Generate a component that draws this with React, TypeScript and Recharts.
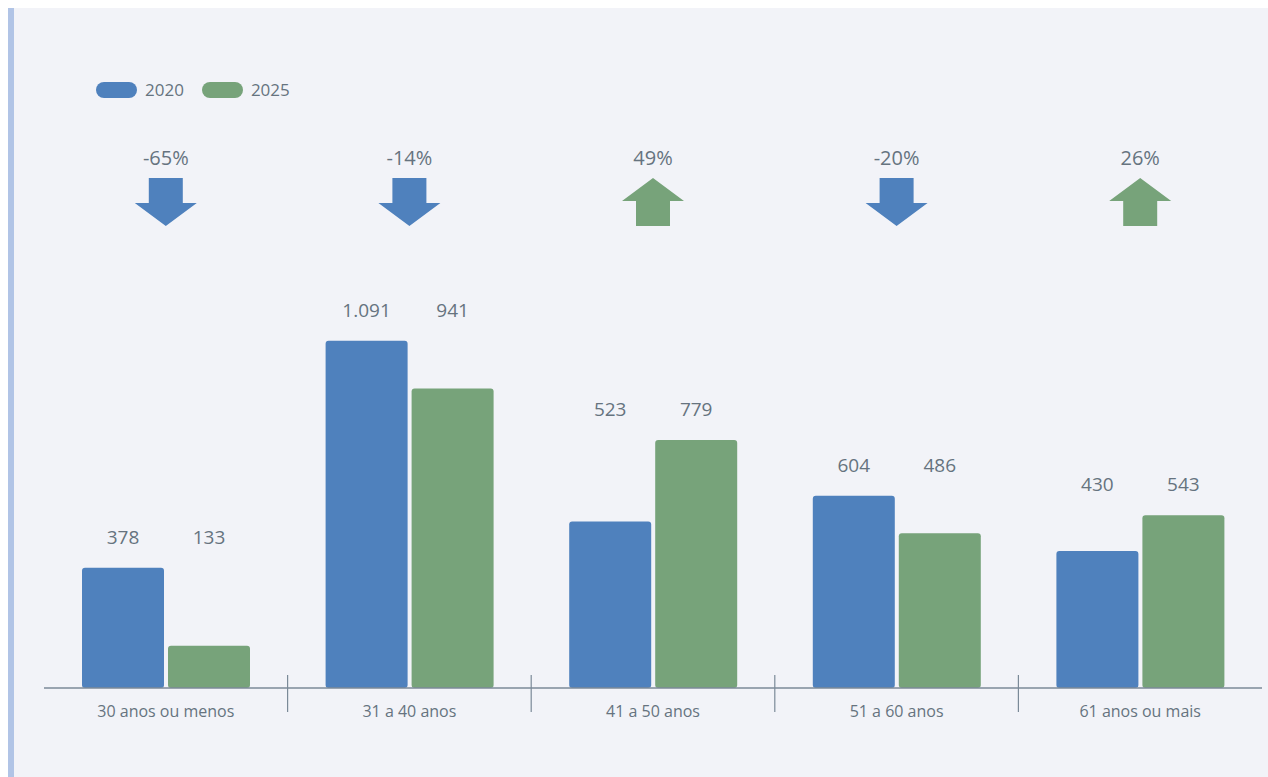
import React from 'react'
import { BarChart, Bar, XAxis, YAxis, Legend, LabelList } from 'recharts'

const faixas = ['30 anos ou menos', '31 a 40 anos', '41 a 50 anos', '51 a 60 anos', '61 anos ou mais']
const valores2020 = [378, 1091, 523, 604, 430]
const valores2025 = [133, 941, 779, 486, 543]
const variacao = [-65, -14, 49, -20, 26]

const AZUL = '#4f81bd'
const VERDE = '#77a37a'
const TEXTO = '#66737f'
const EIXO = '#7b8a98'
const FONTE = '"Open Sans", "Noto Sans", sans-serif'

const CHART_W = 1254
const CHART_H = 769
const PLOT_TOP = 298
const PLOT_BOTTOM = 680
const PLOT_W = 1218

const data = faixas.map((faixa, i) => ({
  faixa,
  v2020: valores2020[i],
  v2025: valores2025[i],
}))

const fmt = (v: number) => String(v).replace(/\B(?=(\d{3})+(?!\d))/g, '.')

// label sits above the taller bar of its group
const ValueLabel = (props: any) => {
  const { x, y, width, height, value, index } = props
  const max = Math.max(valores2020[index], valores2025[index])
  const bottom = y + height
  const topOfMax = bottom - (height * max) / value
  return (
    <text
      x={x + width / 2}
      y={topOfMax - 29}
      textAnchor='middle'
      dominantBaseline='middle'
      fill={TEXTO}
      fontSize={19}
      fontFamily={FONTE}
    >
      {fmt(value)}
    </text>
  )
}

const ArrowTick = (props: any) => {
  const { x, payload } = props
  const v = variacao[payload.index]
  const down = v < 0
  const cx = x
  const pts = down
    ? [
        [cx - 17, 170], [cx + 17, 170], [cx + 17, 195], [cx + 31, 195],
        [cx, 218], [cx - 31, 195], [cx - 17, 195],
      ]
    : [
        [cx, 170], [cx + 31, 193], [cx + 17, 193], [cx + 17, 218],
        [cx - 17, 218], [cx - 17, 193], [cx - 31, 193],
      ]
  return (
    <g>
      <text
        x={cx}
        y={152}
        textAnchor='middle'
        dominantBaseline='middle'
        fill={TEXTO}
        fontSize={20}
        fontFamily={FONTE}
      >
        {v + '%'}
      </text>
      <polygon points={pts.map((p) => p.join(',')).join(' ')} fill={down ? AZUL : VERDE} />
    </g>
  )
}

// category name plus the divider on the right edge of its band
const CategoryTick = (props: any) => {
  const { x, payload, index } = props
  const half = payload.offset || PLOT_W / faixas.length / 2
  const sx = x + half
  return (
    <g>
      <text
        x={x}
        y={PLOT_BOTTOM + 25}
        textAnchor='middle'
        dominantBaseline='middle'
        fill={TEXTO}
        fontSize={16}
        fontFamily={FONTE}
      >
        {payload.value}
      </text>
      {index < faixas.length - 1 && (
        <line x1={sx} x2={sx} y1={PLOT_BOTTOM - 13} y2={PLOT_BOTTOM + 24} stroke={EIXO} strokeWidth={1.2} />
      )}
    </g>
  )
}

const LegendContent = () => {
  const items = [
    { label: '2020', color: AZUL },
    { label: '2025', color: VERDE },
  ]
  return (
    <div style={{ display: 'flex', alignItems: 'center', fontFamily: FONTE, fontSize: 17, color: TEXTO }}>
      {items.map((it) => (
        <div key={it.label} style={{ display: 'flex', alignItems: 'center', marginRight: 18 }}>
          <span
            style={{
              display: 'inline-block',
              width: 41,
              height: 16,
              borderRadius: 8,
              background: it.color,
              marginRight: 8,
            }}
          />
          <span>{it.label}</span>
        </div>
      ))}
    </div>
  )
}

export default function App() {
  return (
    <div
      style={{
        position: 'fixed',
        left: 8,
        top: 8,
        right: 0,
        bottom: 0,
        background: '#f2f3f8',
        borderLeft: '6px solid #b1c4e6',
        overflow: 'hidden',
      }}
    >
      <BarChart
        width={CHART_W}
        height={CHART_H}
        data={data}
        margin={{ top: 10, right: 6, left: 30, bottom: CHART_H - PLOT_BOTTOM - 40 }}
        barGap={4}
        barSize={82}
      >
        <XAxis
          dataKey='faixa'
          xAxisId='top'
          orientation='top'
          height={PLOT_TOP - 10}
          axisLine={false}
          tickLine={false}
          tick={<ArrowTick />}
          interval={0}
        />
        <XAxis
          dataKey='faixa'
          height={40}
          axisLine={{ stroke: EIXO, strokeWidth: 1.5 }}
          tickLine={false}
          tick={<CategoryTick />}
          interval={0}
        />
        <YAxis hide domain={[0, 1200]} />
        <Legend
          verticalAlign='middle'
          content={<LegendContent />}
          wrapperStyle={{ top: 70, left: 82, width: 'auto' }}
        />
        <Bar dataKey='v2020' name='2020' fill={AZUL} radius={3} isAnimationActive={false}>
          <LabelList dataKey='v2020' content={<ValueLabel />} />
        </Bar>
        <Bar dataKey='v2025' name='2025' fill={VERDE} radius={3} isAnimationActive={false}>
          <LabelList dataKey='v2025' content={<ValueLabel />} />
        </Bar>
      </BarChart>
    </div>
  )
}
